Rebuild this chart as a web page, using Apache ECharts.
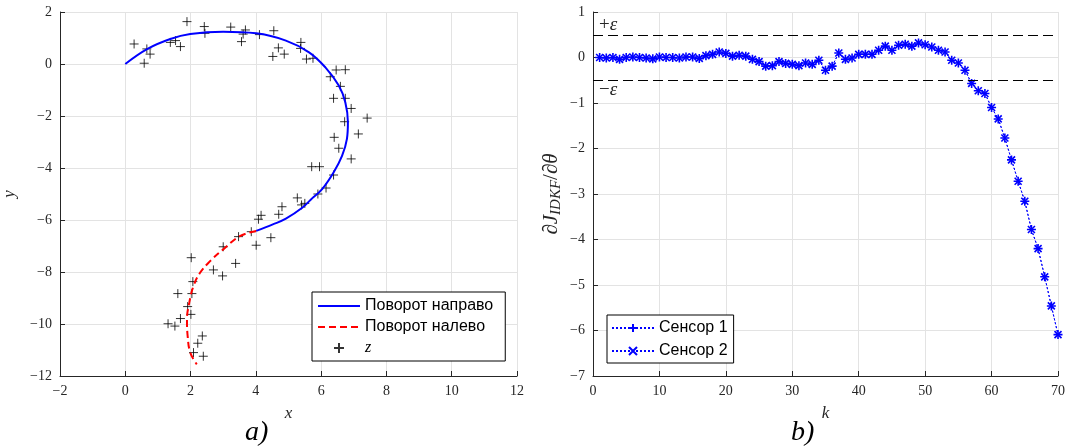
<!DOCTYPE html>
<html>
<head>
<meta charset="utf-8">
<script src="https://cdn.jsdelivr.net/npm/echarts@6/dist/echarts.min.js"></script>
<style>
  html, body { margin: 0; padding: 0; background: #fff; }
  #chart { width: 1075px; height: 446px; }
</style>
</head>
<body>
<div id="chart"></div>
<script>
// ---- panel a): trajectory ----
const turnRight = [[0, 0], [0.68, 0.58], [1.38, 0.96], [1.99, 1.15], [3.0, 1.24], [4.01, 1.18],
  [4.92, 0.9], [5.63, 0.45], [6.13, -0.13], [6.54, -0.83], [6.74, -1.47], [6.82, -2.24],
  [6.79, -2.88], [6.64, -3.53], [6.38, -4.17], [6.03, -4.81], [5.68, -5.22], [5.42, -5.53],
  [4.92, -5.95], [4.52, -6.17], [4.01, -6.42]];
const turnLeft = [[4.01, -6.42], [3.51, -6.62], [3.0, -7.13], [2.6, -7.58], [2.29, -8.03],
  [2.09, -8.54], [1.96, -9.18], [1.89, -9.82], [1.91, -10.46], [1.99, -11.1], [2.19, -11.55]];
const measX = [0.27, 0.66, 0.58, 0.76, 1.38, 1.54, 1.69, 1.89, 2.42, 2.44, 3.23, 3.56, 3.61, 3.68,
  4.11, 4.55, 4.52, 4.69, 4.87, 5.38, 5.37, 5.55, 5.75, 6.28, 6.46, 6.74, 6.59, 6.38, 6.74, 6.92,
  7.41, 6.72, 7.14, 6.4, 6.54, 6.92, 5.71, 5.95, 6.38, 6.15, 5.9, 5.27, 5.4, 5.5, 4.8, 4.7, 4.16,
  4.08, 3.86, 4.46, 3.47, 4.01, 3.0, 3.38, 2.7, 2.98, 2.02, 2.07, 2.04, 1.61, 1.91, 2.01, 1.69,
  1.31, 1.52, 2.36, 2.22, 2.09, 2.39];
const measY = [0.77, 0.58, 0.03, 0.38, 0.83, 0.9, 0.67, 1.63, 1.44, 1.18, 1.42, 0.86, 1.15, 1.31,
  1.13, 1.28, 0.29, 0.62, 0.38, 0.83, 0.6, 0.19, 0.22, -0.49, -0.23, -0.22, -0.86, -1.32, -1.32, -1.71,
  -2.08, -2.22, -2.69, -2.82, -3.24, -3.65, -3.95, -3.95, -4.27, -4.77, -5.0, -5.15, -5.42, -5.36, -5.49, -5.78, -5.82,
  -5.97, -6.45, -6.68, -6.64, -6.97, -7.03, -7.67, -7.92, -8.15, -7.45, -8.37, -8.83, -8.83, -9.33, -9.63, -9.79,
  -9.99, -10.08, -10.46, -10.74, -11.1, -11.24];

// ---- panel b): derivative of criterion ----
const sensor1 = [0, -0.01, 0, -0.04, 0, 0.01, 0, -0.01, -0.03, 0.01,
  0, 0, -0.01, 0.01, 0.01, -0.02, 0.04, 0.07, 0.12, 0.09,
  0.03, 0.05, 0.03, -0.04, -0.09, -0.19, -0.18, -0.09, -0.13, -0.15,
  -0.18, -0.12, -0.15, -0.06, -0.28, -0.19, 0.1, -0.04, -0.01, 0.07,
  0.07, 0.07, 0.16, 0.25, 0.16, 0.27, 0.29, 0.25, 0.32, 0.28,
  0.23, 0.16, 0.12, -0.06, -0.12, -0.28, -0.57, -0.73, -0.79, -1.1,
  -1.35, -1.77, -2.25, -2.72, -3.16, -3.78, -4.2, -4.82, -5.46, -6.09];
const sensor2 = sensor1.slice();
const epsilon = 0.5;

const plusPath = 'path://M0,5L10,5M5,0L5,10';
const crossPath = 'path://M0,0L10,10M10,0L0,10';
const serif = 'Liberation Serif';
const sans = 'Liberation Sans';
const axisColor = '#262626';
const minus = (v) => String(v).replace('-', '\u2212');

function axis(min, max, interval, extra) {
  return Object.assign({
    type: 'value', min: min, max: max, interval: interval,
    axisLine: { show: true, onZero: false, lineStyle: { color: axisColor, width: 1 } },
    axisTick: { show: true, inside: true, length: 5, lineStyle: { color: axisColor } },
    axisLabel: { color: axisColor, fontFamily: serif, fontSize: 14, formatter: minus },
    splitLine: { show: true, lineStyle: { color: '#e3e3e3', width: 1 } },
    nameLocation: 'middle',
    nameTextStyle: { fontFamily: serif, fontStyle: 'italic', fontSize: 17, color: axisColor }
  }, extra);
}

const chart = echarts.init(document.getElementById('chart'));
const steps = sensor1.map((v, i) => i + 1);
const hideMark = { itemStyle: { opacity: 0 } };

chart.setOption({
  animation: false,
  grid: [
    { left: 54, right: 558, top: 12, bottom: 70 },
    { left: 593, right: 17, top: 12, bottom: 70 }
  ],
  xAxis: [
    axis(-2, 12, 2, { gridIndex: 0, name: 'x', nameGap: 29 }),
    axis(0, 70, 10, { gridIndex: 1, name: 'k', nameGap: 29 })
  ],
  yAxis: [
    axis(-12, 2, 2, { gridIndex: 0, name: 'y', nameGap: 42 }),
    axis(-7, 1, 1, {
      gridIndex: 1, nameGap: 29,
      name: '\u2202{i|J}{sub|IDKF}/\u2202{i|\u03b8}',
      nameTextStyle: {
        fontFamily: serif, fontSize: 21, color: axisColor,
        rich: {
          i: { fontFamily: serif, fontStyle: 'italic', fontSize: 21, color: axisColor },
          sub: { fontFamily: serif, fontStyle: 'italic', fontSize: 15, color: axisColor, padding: [10, 0, 0, 0] }
        }
      }
    })
  ],
  legend: [
    {
      left: 312, top: 292, orient: 'vertical',
      data: [
        Object.assign({ name: 'Поворот направо' }, hideMark),
        Object.assign({ name: 'Поворот налево' }, hideMark),
        'z'
      ],
      backgroundColor: '#fff', borderColor: '#000', borderWidth: 1,
      padding: [6, 12, 5, 5], itemGap: 5, itemWidth: 42, itemHeight: 10,
      textStyle: {
        fontFamily: sans, fontSize: 16, color: '#000',
        rich: { z: { fontFamily: serif, fontStyle: 'italic', fontSize: 16, color: '#000' } }
      },
      formatter: (n) => (n === 'z' ? '{z|z}' : n)
    },
    {
      left: 607, top: 315, orient: 'vertical',
      data: ['Сенсор 1', 'Сенсор 2'],
      backgroundColor: '#fff', borderColor: '#000', borderWidth: 1,
      padding: [5, 6, 4, 4], itemGap: 7, itemWidth: 42, itemHeight: 10,
      textStyle: { fontFamily: sans, fontSize: 16, color: '#000' }
    }
  ],
  series: [
    {
      name: 'Поворот направо', type: 'line', xAxisIndex: 0, yAxisIndex: 0,
      data: turnRight, smooth: 0.4, showSymbol: false, symbol: 'none',
      lineStyle: { color: '#0000ff', width: 2 }, itemStyle: { color: '#0000ff' }
    },
    {
      name: 'Поворот налево', type: 'line', xAxisIndex: 0, yAxisIndex: 0,
      data: turnLeft, smooth: 0.4, showSymbol: false, symbol: 'none',
      lineStyle: { color: '#ff0000', width: 2, type: [7, 4] }, itemStyle: { color: '#ff0000' }
    },
    {
      name: 'z', type: 'scatter', xAxisIndex: 0, yAxisIndex: 0,
      data: measX.map((x, i) => [x, measY[i]]),
      symbol: plusPath, symbolSize: 9,
      itemStyle: { color: '#000', borderColor: '#000', borderWidth: 1 }
    },
    {
      name: 'Сенсор 1', type: 'line', xAxisIndex: 1, yAxisIndex: 1,
      data: steps.map((k, i) => [k, sensor1[i]]),
      symbol: plusPath, symbolSize: 9, showAllSymbol: true,
      lineStyle: { color: '#0000ff', width: 1, type: [2, 2] },
      itemStyle: { color: '#0000ff', borderColor: '#0000ff', borderWidth: 1.6 },
      markLine: {
        silent: true, symbol: 'none', label: { show: false },
        lineStyle: { color: '#000', width: 1, type: [10, 5] },
        data: [{ yAxis: epsilon }, { yAxis: -epsilon }]
      },
      markPoint: {
        silent: true, symbol: 'circle', symbolSize: 0,
        label: {
          show: true, position: 'right', distance: 0, color: axisColor,
          fontFamily: serif, fontSize: 19,
          rich: { e: { fontFamily: serif, fontStyle: 'italic', fontSize: 19, color: axisColor } }
        },
        data: [
          { coord: [0.9, 0.72], value: 1, label: { formatter: '+{e|\u03b5}' } },
          { coord: [0.9, -0.72], value: 1, label: { formatter: '\u2212{e|\u03b5}' } }
        ]
      }
    },
    {
      name: 'Сенсор 2', type: 'line', xAxisIndex: 1, yAxisIndex: 1,
      data: steps.map((k, i) => [k, sensor2[i]]),
      symbol: crossPath, symbolSize: 7, showAllSymbol: true,
      lineStyle: { color: '#0000ff', width: 1, type: [2, 2] },
      itemStyle: { color: '#0000ff', borderColor: '#0000ff', borderWidth: 1.6 }
    }
  ],
  graphic: [
    { type: 'text', left: 245, top: 419, style: { text: 'a)', fontFamily: serif, fontStyle: 'italic', fontSize: 28, fill: '#000' } },
    { type: 'text', left: 791, top: 419, style: { text: 'b)', fontFamily: serif, fontStyle: 'italic', fontSize: 28, fill: '#000' } }
  ]
});
</script>
</body>
</html>
